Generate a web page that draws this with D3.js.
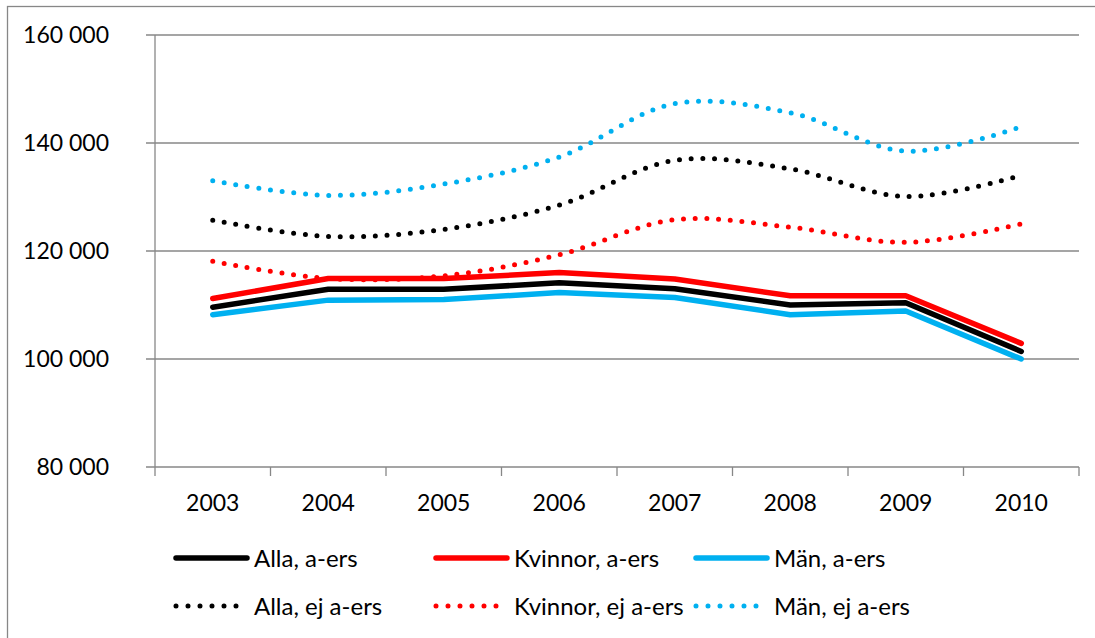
<!DOCTYPE html>
<html>
<head>
<meta charset="utf-8">
<script src="https://cdn.jsdelivr.net/npm/d3@7"></script>
<style>
  body { margin: 0; background: #fff; }
  svg text { font-family: Lato, "Open Sans", sans-serif; fill: #000; }
</style>
</head>
<body>
<svg id="chart" width="1095" height="638"></svg>
<script>
'use strict';

const years = ['2003', '2004', '2005', '2006', '2007', '2008', '2009', '2010'];
const yTicks = [80000, 100000, 120000, 140000, 160000];

// a-ers = members of an unemployment fund (solid), ej a-ers = not (dotted)
const allaAers     = [109600, 112900, 112900, 114100, 113000, 110000, 110400, 101400];
const kvinnorAers  = [111200, 114900, 114900, 116000, 114800, 111700, 111700, 102900];
const manAers      = [108200, 110900, 111000, 112300, 111400, 108200, 108900, 100000];
const allaEj       = [125700, 122700, 124000, 128500, 136800, 135200, 130100, 134000];
const kvinnorEj    = [118100, 114900, 115400, 119300, 125800, 124400, 121600, 125000];
const manEj        = [133000, 130300, 132400, 137400, 147300, 145600, 138500, 143000];

const seriesNames = ['Alla, a-ers', 'Kvinnor, a-ers', 'Män, a-ers',
                     'Alla, ej a-ers', 'Kvinnor, ej a-ers', 'Män, ej a-ers'];

const series = [
    {name: seriesNames[0], values: allaAers,    colour: '#000000', dotted: false},
    {name: seriesNames[1], values: kvinnorAers, colour: '#ff0000', dotted: false},
    {name: seriesNames[2], values: manAers,     colour: '#00b0f0', dotted: false},
    {name: seriesNames[3], values: allaEj,      colour: '#000000', dotted: true},
    {name: seriesNames[4], values: kvinnorEj,   colour: '#ff0000', dotted: true},
    {name: seriesNames[5], values: manEj,       colour: '#00b0f0', dotted: true}
];

const plot = {left: 155, right: 1079, top: 35, bottom: 467};
const gridColour = '#878787';

const svg = d3.select('#chart');

// outer chart border (only top and left are inside the picture)
svg.append('rect')
    .attr('x', 7.5).attr('y', 6.5)
    .attr('width', 1200).attr('height', 800)
    .attr('fill', 'none')
    .attr('stroke', gridColour)
    .attr('stroke-width', 1.3);

const x = d3.scaleBand()
    .domain(years)
    .range([plot.left, plot.right]);

const y = d3.scaleLinear()
    .domain([80000, 160000])
    .range([plot.bottom, plot.top]);

const fmt = (v) => d3.format(',')(v).replace(/,/g, ' ');

// horizontal gridlines
svg.append('g')
    .selectAll('line')
    .data(yTicks)
    .enter()
    .append('line')
    .attr('x1', plot.left - 9)
    .attr('x2', plot.right)
    .attr('y1', (d) => y(d))
    .attr('y2', (d) => y(d))
    .attr('stroke', gridColour)
    .attr('stroke-width', 1.3);

// y axis labels
svg.append('g')
    .selectAll('text')
    .data(yTicks)
    .enter()
    .append('text')
    .attr('x', 109)
    .attr('y', (d) => y(d))
    .attr('dy', '0.36em')
    .attr('text-anchor', 'end')
    .style('font-size', '23px')
    .text(fmt);

// y axis line
svg.append('line')
    .attr('x1', plot.left).attr('x2', plot.left)
    .attr('y1', plot.top).attr('y2', plot.bottom)
    .attr('stroke', gridColour)
    .attr('stroke-width', 1.3);

// x axis ticks at category boundaries
const boundaries = years.map((d) => x(d)).concat([plot.right]);
svg.append('g')
    .selectAll('line')
    .data(boundaries)
    .enter()
    .append('line')
    .attr('x1', (d) => d).attr('x2', (d) => d)
    .attr('y1', plot.bottom).attr('y2', plot.bottom + 9)
    .attr('stroke', gridColour)
    .attr('stroke-width', 1.3);

svg.append('g')
    .selectAll('text')
    .data(years)
    .enter()
    .append('text')
    .attr('x', (d) => x(d) + x.bandwidth() / 2)
    .attr('y', 511)
    .attr('text-anchor', 'middle')
    .style('font-size', '23px')
    .text((d) => d);

/* ////////////////////////////////////////////////////////////////////////////
// Lines: solid ones are straight segments, dotted ones are smoothed
//////////////////////////////////////////////////////////////////////////////*/

const cx = (d, i) => x(years[i]) + x.bandwidth() / 2;

const straight = d3.line().x(cx).y((d) => y(d));
const smooth = d3.line().x(cx).y((d) => y(d)).curve(d3.curveCatmullRom.alpha(0.5));

series.forEach((s) => {

    let path = svg.append('path')
        .datum(s.values)
        .attr('fill', 'none')
        .attr('stroke', s.colour)
        .attr('stroke-linecap', 'round')
        .attr('stroke-linejoin', 'round');

    if(s.dotted) {
        path.attr('d', smooth)
            .attr('stroke-width', 5)
            .attr('stroke-dasharray', '0 11.7');
    }
    else {
        path.attr('d', straight)
            .attr('stroke-width', 5.5);
    }
});

// legend, 3 columns x 2 rows
const legend = svg.append('g')
    .selectAll('g')
    .data(series)
    .enter()
    .append('g')
    .attr('transform', (d, i) => `translate(${176 + (i % 3) * 260}, ${i < 3 ? 558 : 606})`);

legend.append('line')
    .attr('x1', 0)
    .attr('x2', (d) => d.dotted ? 61 : 71)
    .attr('stroke', (d) => d.colour)
    .attr('stroke-width', (d) => d.dotted ? 5 : 5.5)
    .attr('stroke-linecap', 'round')
    .attr('stroke-dasharray', (d) => d.dotted ? '0 12' : null);

legend.append('text')
    .attr('x', 78)
    .attr('dy', '0.36em')
    .style('font-size', '24px')
    .text((d) => d.name);
</script>
</body>
</html>
